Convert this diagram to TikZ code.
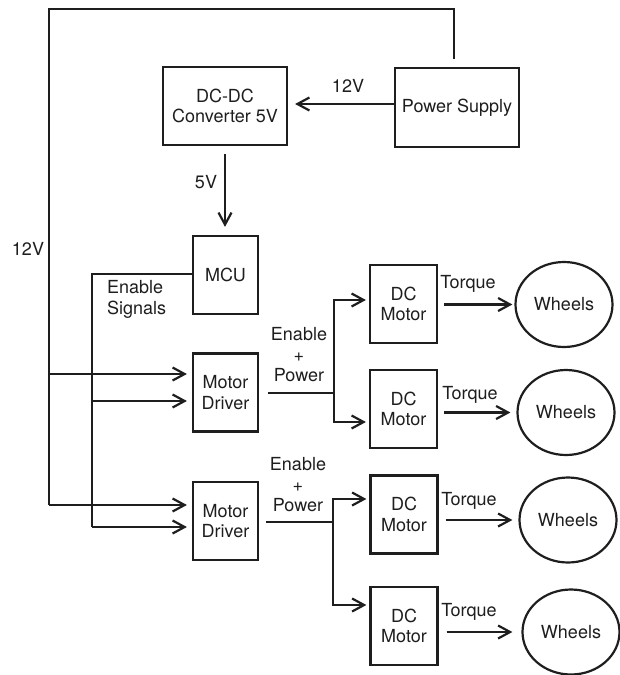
\documentclass[tikz,border=0pt]{standalone}
\usepackage{fontspec}
\setmainfont{TeX Gyre Heros}
\usetikzlibrary{arrows.meta,shapes.geometric}
\definecolor{ink}{HTML}{1E1E1E}
\begin{document}
\begin{tikzpicture}[x=1pt,y=-1pt,
  font=\fontsize{18}{20.5}\selectfont,
  every node/.style={text=ink},
  wire/.style={draw=ink, line width=2.2pt, line join=miter},
  arr/.style={wire, -{Straight Barb[length=12pt,width=13pt]}, shorten >=5pt},
  box/.style={draw=ink, line width=2.2pt, inner sep=0pt, align=center},
  bigbox/.style={box, minimum width=124pt, minimum height=78pt},
  smallbox/.style={box, minimum width=65pt, minimum height=78pt},
  motorbox/.style={box, minimum width=67pt, minimum height=78pt},
  wheel/.style={draw=ink, ellipse, line width=2.2pt, inner sep=0pt, minimum width=97pt, minimum height=85pt},
  lbl/.style={inner sep=0pt}
]
\useasboundingbox (0,0) rectangle (620,675);

% blocks
\node[bigbox, minimum height=79pt] (ps) at (457,107.5) {Power Supply};
\node[bigbox] (dcdc) at (225,106) {DC-DC\\Converter 5V};
\node[smallbox] (mcu) at (225.5,275) {MCU};
\node[smallbox] (md1) at (225.5,392.5) {Motor\\Driver};
\node[smallbox] (md2) at (225.5,521) {Motor\\Driver};
\node[motorbox] (dc1) at (403.5,304) {DC\\Motor};
\node[motorbox] (dc2) at (403.5,409) {DC\\Motor};
\node[motorbox] (dc3) at (404,514.5) {DC\\Motor};
\node[motorbox] (dc4) at (404,626) {DC\\Motor};
\node[wheel] (w1) at (564,304.5) {Wheels};
\node[wheel] (w2) at (566,412.5) {Wheels};
\node[wheel] (w3) at (568,520) {Wheels};
\node[wheel] (w4) at (571,632) {Wheels};

% labels
\node[lbl] (l12a) at (348,86) {12V};
\node[lbl] (l5) at (206,182.5) {5V};
\node[lbl] (l12b) at (28,249) {12V};
\node[lbl, anchor=west, align=left] (lens) at (107,299.5) {Enable\\Signals};
\node[lbl, align=center] (lep1) at (299,355) {Enable\\+\\Power};
\node[lbl, align=center] (lep2) at (298,485) {Enable\\+\\Power};
\node[lbl, anchor=base] (tq1) at (468,288) {Torque};
\node[lbl, anchor=base] (tq2) at (470,399) {Torque};
\node[lbl, anchor=base] (tq3) at (469,505) {Torque};
\node[lbl, anchor=base] (tq4) at (469,616) {Torque};

% junction points
\coordinate (ctr) at (454,9);
\coordinate (ctl) at (49,9);
\coordinate (v12a) at (49,374);
\coordinate (v12b) at (49,505);
\coordinate (en0) at (92,274);
\coordinate (en1) at (92,401);
\coordinate (en2) at (92,527);
\coordinate (b1) at (334,393);
\coordinate (b1u) at (334,300);
\coordinate (b1d) at (334,422);
\coordinate (b2) at (333,522);
\coordinate (b2u) at (333,499);
\coordinate (b2d) at (333,605);

% 12V bus
\draw[wire, shorten <=8pt] (ctr |- ps.north) -- (ctr) -- (ctl) -- (v12b);
\draw[arr] (v12a) -- (v12a -| md1.west);
\draw[arr] (v12b) -- (v12b -| md2.west);

% power supply -> converter -> MCU
\draw[arr, shorten >=7pt] ([yshift=3.5pt]ps.west) -- ([yshift=3.5pt]ps.west -| dcdc.east);
\draw[arr, shorten <=8pt, shorten >=8pt] (dcdc.south) -- (dcdc.south |- mcu.north);

% enable signals
\draw[wire] (mcu.west |- en0) -- (en0) -- (en2);
\draw[arr] (en1) -- (en1 -| md1.west);
\draw[arr] (en2) -- (en2 -| md2.west);

% driver outputs
\draw[wire, shorten <=9pt] (md1.east |- b1) -- (b1);
\draw[arr, shorten >=3pt] (b1) -- (b1u) -- (b1u -| dc1.west);
\draw[arr, shorten >=3pt] (b1) -- (b1d) -- (b1d -| dc2.west);
\draw[wire, shorten <=7pt] (md2.east |- b2) -- (b2);
\draw[arr, shorten >=3pt] (b2) -- (b2u) -- (b2u -| dc3.west);
\draw[arr, shorten >=3pt] (b2) -- (b2d) -- (b2d -| dc4.west);

% torque
\draw[arr, shorten <=6pt, shorten >=2pt] (w1.west -| dc1.east) -- (w1.west);
\draw[arr, shorten <=6pt, shorten >=6pt] (w2.west -| dc2.east) -- (w2.west);
\draw[arr, shorten <=7pt, shorten >=6pt] (w3.west -| dc3.east) -- (w3.west);
\draw[arr, shorten <=8pt, shorten >=9pt] (w4.west -| dc4.east) -- (w4.west);
\end{tikzpicture}
\end{document}
